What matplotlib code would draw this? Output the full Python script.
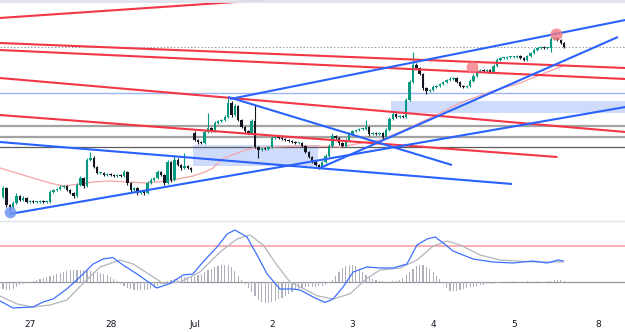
import numpy as np
import matplotlib
matplotlib.use("Agg")
import matplotlib.pyplot as plt
from matplotlib.lines import Line2D
from matplotlib.patches import Rectangle

# ---------------- data (bar index = hourly candle, price in chart units) ----------------
first_open = 23
gap_opens = {57: 87}
closes = [32,15,13,17,24,20,22,18,19,18,
          18,19,18,18,28,30,31,33,34,30,
          27,24,35,42,34,60,62,53,47,47,
          45,46,45,44,45,44,48,37,30,32,
          27,29,27,37,40,42,48,45,37,58,
          40,60,55,52,54,52,50,80,78,77,
          88,92,89,97,99,100,103,117,105,114,
          100,93,89,87,99,73,70,72,71,73,
          82,83,82,81,80,79,78,77,77,74,
          68,63,58,55,53,58,64,74,84,82,
          77,74,80,86,89,90,91,91,93,86,
          87,86,87,83,90,101,106,103,104,103,
          120,138,155,152,146,132,129,130,133,134,
          136,138,140,141,142,138,134,133,134,139,
          144,149,150,149,150,148,154,160,162,162,
          163,163,163,164,162,160,164,167,170,172,
          173,172,172,181,182,180,177,173]
upper_wick = [2,1,1,2,3,1,2,1,1,1, 1,1,1,1,2,1,1,2,1,1, 1,1,2,2,1,2,6,2,1,1,
              1,1,1,1,1,1,2,1,1,1, 1,1,1,2,2,1,2,1,1,2, 1,5,2,1,13,1,1,2,1,1,
              2,15,1,2,1,1,2,6,2,2, 1,1,1,1,2,16,1,1,1,1, 2,1,1,1,1,1,1,1,1,1,
              1,1,1,1,1,1,2,2,3,1, 1,1,2,2,1,1,1,1,7,1, 1,1,1,1,2,2,2,1,1,1,
              2,2,13,2,1,1,1,1,2,1, 1,1,1,2,1,1,1,1,1,2, 2,1,1,1,1,1,2,2,1,1,
              1,1,1,1,1,1,1,1,2,1, 1,1,1,2,2,1,1,1]
lower_wick = [1,2,4,1,1,1,1,1,1,1, 1,1,1,1,1,1,1,1,1,1, 1,2,1,1,2,1,1,1,1,1,
              1,1,1,1,1,1,1,2,2,1, 2,1,2,1,1,1,1,1,2,1, 2,1,1,2,1,1,2,1,2,1,
              1,1,1,1,1,1,1,1,2,1, 1,1,2,1,1,1,8,1,1,1, 1,1,1,1,1,1,1,1,1,1,
              1,1,1,1,2,1,1,1,1,1, 2,1,1,1,1,1,1,1,1,2, 1,1,1,2,1,1,1,1,1,1,
              1,1,1,1,1,2,3,1,1,1, 1,1,1,1,1,1,1,1,1,1, 1,1,1,1,1,1,1,1,1,1,
              1,1,1,1,1,1,1,1,1,1, 1,1,1,4,1,1,1,1]

ma_idx = [-0.9,8.9,14,17.9,22.9,26.8,31.8,36.9,42.9,50.6,56.5,60.1,62.5,65.2,70.5,74.4,
          80.4,88.4,93.5,100.3,108.3,112.2,118.2,127.1,136,144.9,153.9,161.3,167.3]
ma_val = [52,42,37,34,36,38,39,38,37,40,44,48,52,61,68,72,73,74,74,73,78,80,88,102,117,128,137,147,155]

# trendlines: (x0, p0, x1, p1)
red_lines = [(-1, 202, 78, 220), (-1, 177, 185.2, 152), (-1, 170, 185.2, 141),
             (-1, 142, 185.2, 88), (-1, 105, 165, 63)]
blue_lines = [(67.6, 121, 185.2, 200), (94.3, 52, 183, 183), (2, 6, 185.2, 113),
              (67, 123, 133.6, 55), (-1, 78, 151.5, 36)]
h_grey = [94, 83]
h_dark = 73
h_blue = 127
last_price = 173
zones = [(56.5, 54, 93.75, 75), (115.5, 107, 185.2, 119)]
blue_marks = ([2.1], [8])
red_marks = ([139.6, 164.6], [153, 186])

macd_idx = [-0.9,3,8.9,11.9,14.9,19,22.9,26.8,29.8,32.7,35.7,39.9,45.8,49.7,53.6,56.5,59.5,
            63.7,66.7,69,72.6,75.6,78.6,82.4,86.3,88.4,92.3,95.8,98.2,101.2,104.2,108.3,
            112.2,116.1,120.2,123.2,126.2,128.6,131,133.9,139.9,145.8,151.8,157.7,161.9,165.2,166.7]
macd_val = [-19,-26,-25,-20,-17,-7,5,18,23,24.5,17,8,-6,-1.5,7,8,20,
            35,48,52,45,27,8,-7,-7,-8,-15,-20.5,-17,-5,10,15,
            14,14,18,37,43,45,39,31,23,20,19,21,19,22,21]
sig_idx = [-0.9,4.2,8.9,14,19,23.8,28.9,34.8,38.7,43.8,47.6,52.7,58.6,64.6,69.6,73.5,77.4,
           81.5,85.4,88.4,93.5,98.2,103.3,108.3,112.2,118.2,123.2,128,132.1,136,142,147.9,157.7,166.7]
sig_val = [-14,-22,-25,-23,-18,-1.5,15,22,18,7,-1.5,0,10,30,43,47,37,
           17,0,-5,-13.7,-17,-11.7,3.7,12,14,22,36,41,37,27,22,20,20]
hist = [-7,-8,-8,-7,-5,-3,-2,-1,0,1,
        2,3,4,5,6,7,8,9,10,11,
        12,12,12,12,12,11,11,10,10,9,
        8,7,5,3,1,-2,-4,-6,-7,-8,
        -8,-8,-8,-8,-7,-6,-4,-2,0,1,
        2,3,4,5,5,5,5,6,7,8,
        10,12,13,15,16,17,17,17,15,11,
        6,2,-2,-6,-10,-14,-18,-20,-21,-21,
        -20,-19,-17,-16,-14,-12,-10,-8,-7,-6,
        -5,-5,-5,-5,-4,-4,-3,-1,2,6,
        10,14,16,17,17,16,13,10,7,5,
        3,2,1,1,0,0,1,1,2,4,
        7,10,13,16,17,17,15,13,10,6,
        3,-2,-6,-9,-9,-9,-8,-7,-6,-5,
        -5,-4,-3,-3,-2,-2,-2,-1,-1,0,
        0,0,1,0,0,0,1,0,0,1,
        0,0,1,1,2,2,2,1]
macd_level = 36

day_idx = [8, 32, 57, 80, 104, 128, 152, 177]
day_labels = ["27", "28", "Jul", "2", "3", "4", "5", "8"]

# ---------------- figure ----------------
W, H = 625, 332
fig = plt.figure(figsize=(W / 100, H / 100), dpi=100)
fig.patch.set_facecolor("white")
ax = fig.add_axes([0, 112 / H, 1, 220 / H])
axm = fig.add_axes([0, 20 / H, 1, 91 / H])
XL = (-0.9, 185.1)
for a in (ax, axm):
    a.set_xlim(*XL)
    for s in a.spines.values():
        s.set_visible(False)
    a.set_yticks([])
    a.set_facecolor("white")
ax.set_ylim(0, 220)
ax.set_xticks([])
axm.set_ylim(-30, 61)

closes = np.array(closes, float)
opens = np.r_[first_open, closes[:-1]]
for k, v in gap_opens.items():
    opens[k] = v
idx = np.arange(len(closes))
highs = np.maximum(opens, closes) + np.array(upper_wick)
lows = np.minimum(opens, closes) - np.array(lower_wick)
up = closes >= opens
GREEN, BLACK = "#089981", "#131722"
cols = np.where(up, GREEN, BLACK)

# zones
for x0, p0, x1, p1 in zones:
    ax.add_patch(Rectangle((x0, p0), x1 - x0, p1 - p0, facecolor="#cfdbfb", edgecolor="none", zorder=1))
# horizontals
for p in h_grey:
    ax.axhline(p, color="#a3a3a3", lw=1.6, zorder=2)
ax.axhline(h_dark, color="#5d5d5d", lw=0.9, zorder=2)
ax.axhline(h_blue, color="#9db3f5", lw=1.0, zorder=2)
ax.axhline(last_price, color="#9598a1", lw=0.7, ls=(0, (1.5, 2)), zorder=2)
# MA
ax.plot(ma_idx, ma_val, color="#f5a3a8", lw=0.9, zorder=2)
# candles
ax.vlines(idx, lows, highs, colors=cols, lw=0.8, zorder=3)
body_h = np.maximum(np.abs(closes - opens), 0.7)
ax.bar(idx, body_h, bottom=np.minimum(opens, closes), width=0.72, color=cols, linewidth=0, zorder=3)
# trendlines
for x0, p0, x1, p1 in red_lines:
    ax.plot([x0, x1], [p0, p1], color="#f23645", lw=1.5, zorder=4, solid_capstyle="butt")
for x0, p0, x1, p1 in blue_lines:
    ax.plot([x0, x1], [p0, p1], color="#2962ff", lw=1.5, zorder=4, solid_capstyle="butt")
ax.scatter(*blue_marks, s=70, color="#6f95f2", alpha=0.85, zorder=5, linewidths=0)
ax.scatter(*red_marks, s=75, color="#f47a82", alpha=0.8, zorder=5, linewidths=0)

# MACD panel
axm.axhline(0, color="#9598a1", lw=0.9, zorder=1)
axm.axhline(macd_level, color="#f7a3a8", lw=1.2, zorder=1)
axm.bar(idx, hist, width=0.35, color="#aeb1ba", linewidth=0, zorder=2)
axm.plot(sig_idx, sig_val, color="#b2b5be", lw=0.9, zorder=3)
axm.plot(macd_idx, macd_val, color="#3d6fff", lw=0.9, zorder=4)
axm.set_xticks(day_idx)
axm.set_xticklabels(day_labels, fontsize=6.5, color="#131722")
axm.tick_params(axis="x", length=0, pad=6)

# panel separators
fig.add_artist(Line2D([0, 1], [1 - 0.5 / H, 1 - 0.5 / H], color="#e0e3eb", lw=2))
fig.add_artist(Line2D([0, 1], [1 - 220.5 / H, 1 - 220.5 / H], color="#e0e3eb", lw=1))

fig.savefig("out.png", dpi=100, facecolor="white")
